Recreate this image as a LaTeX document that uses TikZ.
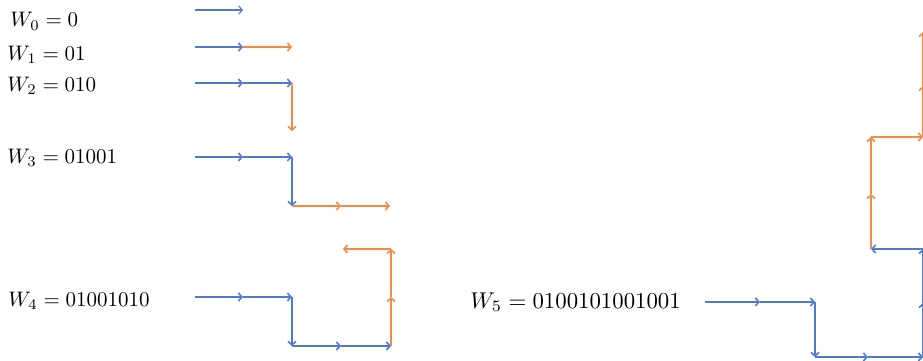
\documentclass[tikz,border=0pt]{standalone}
\usetikzlibrary{arrows.meta}
\definecolor{fblue}{RGB}{78,122,210}
\definecolor{forange}{RGB}{242,138,72}
\tikzset{
  seg/.style={line width=1.6pt, -{Straight Barb[length=3.5pt,width=8pt]}},
  bseg/.style={seg, draw=fblue},
  oseg/.style={seg, draw=forange},
  lbl/.style={anchor=base west, inner sep=0pt, scale=2.1},
}
\begin{document}
\begin{tikzpicture}[x=1pt,y=-1pt]
\fill[white] (0,0) rectangle (923,361);
\useasboundingbox (0,0) rectangle (923,361);

% labels
\node[lbl] (l0) at (10,27) {$W_0=0$};
\node[lbl] (l1) at (7,60) {$W_1=01$};
\node[lbl] (l2) at (7,91) {$W_2=010$};
\node[lbl] (l3) at (7,163) {$W_3=01001$};
\node[lbl] (l4) at (8,306) {$W_4=01001010$};
\node[lbl, scale=2.28/2.1] (l5) at (470,308) {$W_5=0100101001001$};

% W0
\coordinate (a0) at (195,10); \coordinate (a1) at (243,10);
\draw[bseg, line width=1.1pt] (a0) -- (a1);

% W1
\coordinate (b0) at (195,47); \coordinate (b1) at (243,47); \coordinate (b2) at (292,47);
\draw[bseg] (b0) -- (b1);
\draw[oseg] (b1) -- (b2);

% W2
\coordinate (c0) at (195,83); \coordinate (c1) at (243,83); \coordinate (c2) at (292,83);
\coordinate (c3) at (292,131);
\foreach \i/\j in {0/1,1/2} \draw[bseg] (c\i) -- (c\j);
\draw[oseg] (c2) -- (c3);

% W3
\coordinate (d0) at (195,157); \coordinate (d1) at (243,157); \coordinate (d2) at (292,157);
\coordinate (d3) at (292,206); \coordinate (d4) at (341,206); \coordinate (d5) at (390,206);
\foreach \i/\j in {0/1,1/2,2/3} \draw[bseg] (d\i) -- (d\j);
\foreach \i/\j in {3/4,4/5} \draw[oseg] (d\i) -- (d\j);

% W4
\coordinate (e0) at (195,297); \coordinate (e1) at (243,297); \coordinate (e2) at (292,297);
\coordinate (e3) at (292,346); \coordinate (e4) at (341,346); \coordinate (e5) at (391,346);
\coordinate (e6) at (391,297); \coordinate (e7) at (391,249); \coordinate (e8) at (343,249);
\foreach \i/\j in {0/1,1/2,2/3,3/4,4/5} \draw[bseg] (e\i) -- (e\j);
\foreach \i/\j in {5/6,6/7,7/8} \draw[oseg] (e\i) -- (e\j);

% W5
\coordinate (f0) at (705,302); \coordinate (f1) at (760,302); \coordinate (f2) at (815,302);
\coordinate (f3) at (815,357); \coordinate (f4) at (868,357); \coordinate (f5) at (923,357);
\coordinate (f6) at (923,303); \coordinate (f7) at (923,249); \coordinate (f8) at (871,249);
\coordinate (f9) at (871,194); \coordinate (f10) at (871,137); \coordinate (f11) at (923,137);
\coordinate (f12) at (923,86); \coordinate (f13) at (923,32);
\foreach \i/\j in {0/1,1/2,2/3,3/4,4/5,5/6,6/7,7/8} \draw[bseg] (f\i) -- (f\j);
\foreach \i/\j in {8/9,9/10,10/11,11/12,12/13} \draw[oseg] (f\i) -- (f\j);
\end{tikzpicture}
\end{document}
